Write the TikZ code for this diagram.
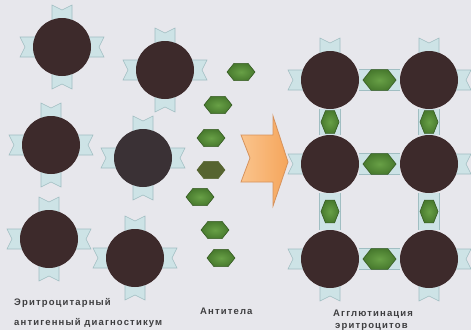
\documentclass[tikz,border=0pt]{standalone}
\usepackage{fontspec}
\usetikzlibrary{shapes.geometric}
\newfontfamily\captfont[LetterSpace=12]{Liberation Sans}

\definecolor{paper}{RGB}{231,231,236}
\definecolor{rbcbrown}{RGB}{61,42,43}
\definecolor{rbcgrey}{RGB}{58,49,53}
\definecolor{rcpblue}{RGB}{205,227,230}
\definecolor{rcpedge}{RGB}{160,190,194}
\definecolor{abgreen}{RGB}{72,122,46}
\definecolor{abdark}{RGB}{55,92,36}
\definecolor{ablight}{RGB}{104,160,70}
\definecolor{abolive}{RGB}{86,100,48}
\definecolor{arrorange}{RGB}{245,165,92}
\definecolor{arrlight}{RGB}{250,196,140}
\definecolor{arredge}{RGB}{214,146,92}
\definecolor{captgrey}{RGB}{62,62,64}

\pgfdeclarelayer{under}
\pgfsetlayers{under,main}

% red cell with its receptors: \rbc[style]{name}{x,y}{angles}
\newcommand\rbc[4][cell]{%
  \foreach \a in {#4} {\pic[rotate=\a] at (#3) {rcp};}
  \node[#1] (#2) at (#3) {};}

\begin{document}
\begin{tikzpicture}
  [x=1pt, y=1pt,
    cell/.style={circle, fill=rbcbrown, minimum size=58pt, inner sep=0pt},
    cellgrey/.style={cell, fill=rbcgrey},
    rcp/.pic={\path[fill=rcpblue, draw=rcpedge, line width=0.6pt]
      (24,-10) -- (42,-10) -- (37,0) -- (42,10) -- (24,10) -- cycle;},
    abbase/.style={regular polygon, regular polygon sides=6, inner sep=0pt,
      transform shape, draw=abdark, line width=0.6pt},
    ab/.style={abbase, minimum size=20pt, xscale=1.4, inner color=ablight, outer color=abgreen},
    abflat/.style={abbase, minimum size=20pt, xscale=1.4, fill=abolive, draw=abolive},
    abwide/.style={abbase, minimum size=24pt, xscale=1.38, inner color=ablight, outer color=abgreen},
    abtall/.style={abbase, minimum size=22pt, xscale=0.82, yscale=1.2, inner color=ablight, outer color=abgreen},
    bond/.style={line width=22pt, draw=rcpedge, postaction={draw=rcpblue, line width=20.4pt}},
    arrow/.style={draw=arredge, line width=0.8pt, left color=arrlight, right color=arrorange},
    capt/.style={font=\captfont\bfseries\fontsize{9.5}{11}\selectfont, text=captgrey,
      inner sep=0pt, anchor=base west}
  ]
  \useasboundingbox (0,0) rectangle (471,-330);

  % free cells
  \rbc{e1}{62,-47}{0,90,180,270}
  \rbc{e2}{165,-70}{0,90,180,270}
  \rbc{e3}{51,-145}{0,90,180,270}
  \rbc[cellgrey]{e4}{143,-158}{0,90,180,270}
  \rbc{e5}{49,-239}{0,90,180,270}
  \rbc{e6}{135,-258}{0,90,180,270}

  % free antibodies
  \foreach \n/\p in {1/{241,-72}, 2/{218,-105}, 3/{211,-138}, 5/{200,-197}, 6/{215,-230}, 7/{221,-258}}
    \node[ab] (ab\n) at (\p) {};
  \node[abflat] (ab4) at (211,-170) {};

  % arrow
  \path[arrow] (241,-135) -- (273,-135) -- (273,-116) -- (288,-162) -- (273,-206)
    -- (273,-182) -- (241,-182) -- (250,-158) -- cycle;

  % agglutinated lattice
  \rbc{g11}{330,-80}{90,180}
  \rbc{g12}{429,-80}{0,90}
  \rbc{g21}{330,-164}{180}
  \rbc{g22}{429,-164}{0}
  \rbc{g31}{330,-259}{180,270}
  \rbc{g32}{429,-259}{0,270}

  \begin{pgfonlayer}{under}
    \fill[paper] (0,0) rectangle (471,-330);
    \foreach \a/\b in {g11/g12, g21/g22, g31/g32, g11/g21, g12/g22, g21/g31, g22/g32}
      \draw[bond] (\a) -- (\b);
  \end{pgfonlayer}

  \foreach \a/\b [count=\i] in {g11/g12, g21/g22, g31/g32}
    \path (\a) -- (\b) node[abwide, midway] (h\i) {};
  \foreach \a/\b [count=\i] in {g11/g21, g12/g22, g21/g31, g22/g32}
    \path (\a) -- (\b) node[abtall, midway] (v\i) {};

  % captions
  \node[capt] (t1) at (14,-305) {Эритроцитарный};
  \node[capt] (t2) at (14,-325) {антигенный диагностикум};
  \node[capt] (t3) at (200,-314) {Антитела};
  \node[capt] (t4) at (333,-316) {Агглютинация};
  \node[capt] (t5) at (335,-328) {эритроцитов};
\end{tikzpicture}
\end{document}
